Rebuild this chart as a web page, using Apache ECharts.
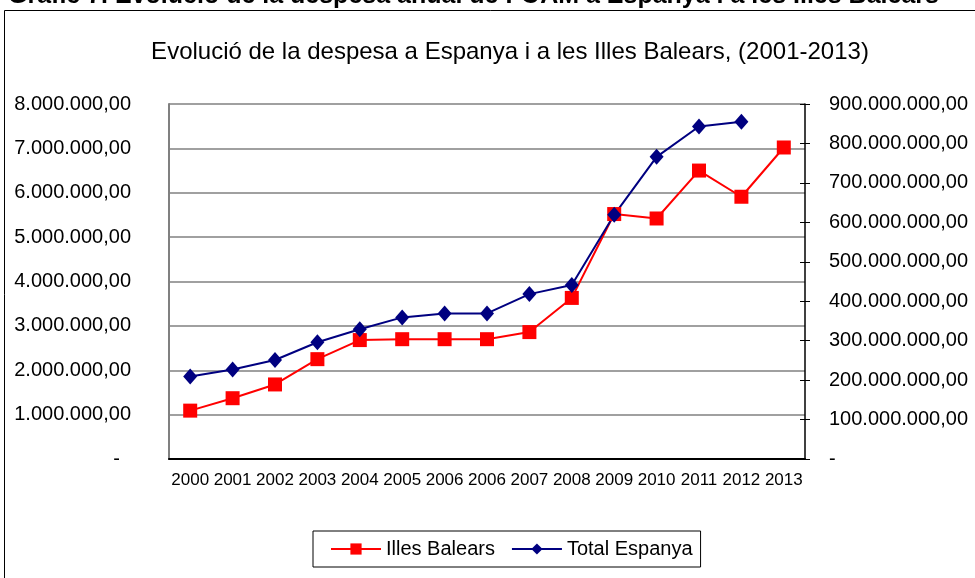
<!DOCTYPE html>
<html>
<head>
<meta charset="utf-8">
<script src="https://cdn.jsdelivr.net/npm/echarts@6/dist/echarts.min.js"></script>
<style>
  html, body { margin: 0; padding: 0; background: #fff; }
  #chart { width: 975px; height: 578px; }
</style>
</head>
<body>
<div id="chart"></div>
<script>
// anys (2006 apareix dues vegades a l'original)
const years = ['2000', '2001', '2002', '2003', '2004', '2005', '2006', '2006',
  '2007', '2008', '2009', '2010', '2011', '2012', '2013'];
// Illes Balears (eix esquerre)
const illesBalears = [1090000, 1370000, 1680000, 2250000, 2680000, 2700000, 2700000, 2700000,
  2860000, 3630000, 5520000, 5420000, 6500000, 5910000, 7020000];
// Total Espanya (eix dret)
const totalEspanya = [209000000, 227000000, 251000000, 296000000, 329000000, 359000000, 369000000, 369000000,
  418000000, 441000000, 619000000, 766000000, 843000000, 855000000, null];

const FONT = '"Liberation Sans", Arial, sans-serif';

// format espanyol: 8.000.000,00 ; zero es mostra com "-"
function fmt(v, zero) {
  if (v === 0) return zero;
  return Math.round(v).toString().replace(/\B(?=(\d{3})+(?!\d))/g, '.') + ',00';
}

const chart = echarts.init(document.getElementById('chart'), null, { renderer: 'canvas' });

const option = {
  backgroundColor: '#fff',
  animation: false,
  title: {
    text: 'Evolució de la despesa a Espanya i a les Illes Balears, (2001-2013)',
    left: 505,
    top: 35,
    textAlign: 'center',
    textStyle: { fontFamily: FONT, fontSize: 24, fontWeight: 'normal', color: '#000' }
  },
  graphic: [
    {
      type: 'rect',
      shape: { x: 4.5, y: 10.5, width: 1000, height: 600 },
      style: { fill: 'none', stroke: '#000', lineWidth: 1 },
      silent: true
    },
    {
      type: 'text',
      left: 8,
      top: -16,
      style: {
        text: 'Gràfic 7. Evolució de la despesa anual de FOAM a Espanya i a les Illes Balears',
        font: 'bold 25px ' + FONT,
        fill: '#000'
      },
      silent: true
    }
  ],
  legend: {
    left: 313,
    top: 531,
    padding: [8, 8, 8, 17],
    itemWidth: 50,
    itemHeight: 14,
    itemGap: 16,
    borderColor: '#000',
    borderWidth: 1,
    textStyle: { fontFamily: FONT, fontSize: 20, color: '#000' },
    data: ['Illes Balears', 'Total Espanya']
  },
  grid: { left: 169, right: 170, top: 104, bottom: 119 },
  xAxis: {
    type: 'category',
    data: years,
    axisLine: { lineStyle: { color: '#000', width: 2 } },
    axisTick: { show: false },
    axisLabel: { fontFamily: FONT, fontSize: 17, color: '#000', margin: 13, interval: 0 },
    splitLine: { show: false }
  },
  yAxis: [
    {
      type: 'value',
      min: 0, max: 8000000, interval: 1000000,
      position: 'left',
      axisLine: { show: true, lineStyle: { color: '#808080', width: 2 } },
      axisTick: { show: false },
      splitLine: { lineStyle: { color: '#a0a0a0', width: 2 } },
      axisLabel: {
        fontFamily: FONT, fontSize: 20, color: '#000', margin: 38,
        formatter: v => fmt(v, '-  ')
      }
    },
    {
      type: 'value',
      min: 0, max: 900000000, interval: 100000000,
      position: 'right',
      axisLine: { show: true, lineStyle: { color: '#000', width: 1.5 } },
      axisTick: { show: true, length: 5, lineStyle: { color: '#000', width: 1 } },
      splitLine: { show: false },
      axisLabel: {
        fontFamily: FONT, fontSize: 20, color: '#000', margin: 24,
        formatter: v => fmt(v, '-')
      }
    },
    {
      // només per a les marques interiors de l'eix dret
      type: 'value',
      min: 0, max: 900000000, interval: 100000000,
      position: 'right',
      axisLine: { show: false },
      axisTick: { show: true, inside: true, length: 5, lineStyle: { color: '#000', width: 1 } },
      splitLine: { show: false },
      axisLabel: { show: false }
    }
  ],
  series: [
    {
      name: 'Illes Balears',
      type: 'line',
      yAxisIndex: 0,
      data: illesBalears,
      symbol: 'rect',
      symbolSize: 14,
      itemStyle: { color: '#ff0000' },
      lineStyle: { color: '#ff0000', width: 2 }
    },
    {
      name: 'Total Espanya',
      type: 'line',
      yAxisIndex: 1,
      data: totalEspanya,
      symbol: 'diamond',
      symbolSize: [14, 16],
      itemStyle: { color: '#000080' },
      lineStyle: { color: '#000080', width: 2 }
    }
  ]
};

chart.setOption(option);
</script>
</body>
</html>
